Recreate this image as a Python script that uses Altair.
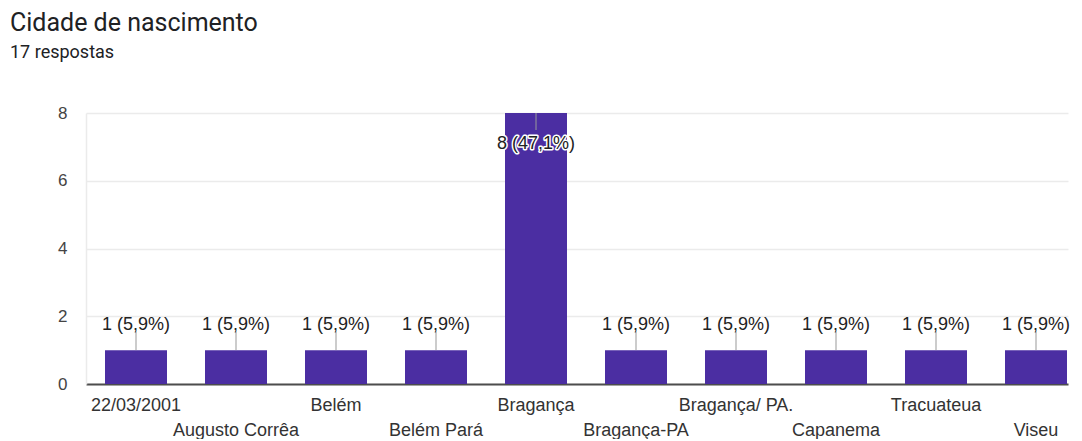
import altair as alt
import pandas as pd

categories = ["22/03/2001", "Augusto Corrêa", "Belém", "Belém Pará", "Bragança",
              "Bragança-PA", "Bragança/ PA.", "Capanema", "Tracuateua", "Viseu"]
counts = [1, 1, 1, 1, 8, 1, 1, 1, 1, 1]
total = 17
y_ticks = [0, 1, 2, 3, 4, 5, 6, 7, 8]

labels = [f"{c} ({c / total * 100:.1f}%)".replace(".", ",") for c in counts]
df = pd.DataFrame({"cidade": categories, "count": counts, "label": labels})

odd_names = ",".join('"' + c + '"' for c in categories[1::2])
x_label_expr = f"indexof([{odd_names}], datum.value) >= 0 ? ['', datum.label] : datum.label"

FONT = "Liberation Sans"
BAR = "#4b2ea2"

x_enc = alt.X(
    "cidade:N", sort=categories, title=None,
    scale=alt.Scale(paddingInner=0.38, paddingOuter=0.1, align=0.95),
    axis=alt.Axis(labelAngle=0, ticks=False, domainColor="#4d4d4d", domainWidth=2,
                  labelFont=FONT, labelFontSize=18, labelColor="#333333",
                  labelPadding=12, labelLineHeight=25, labelBaseline="top",
                  labelExpr=x_label_expr, labelOverlap=False, labelLimit=400, grid=False),
)
y_enc = alt.Y(
    "count:Q", title=None,
    scale=alt.Scale(domain=[0, 8], nice=False),
    axis=alt.Axis(values=y_ticks, labelExpr="datum.value % 2 == 0 ? datum.label : ''",
                  grid=True, gridColor="#ebebeb", gridWidth=1.5, domain=True,
                  domainColor="#ebebeb", domainWidth=1.5,
                  ticks=False, labelPadding=19, labelFont=FONT, labelFontSize=17,
                  labelColor="#444444"),
)

base = alt.Chart(df).transform_joinaggregate(maxc="max(count)")

bars = base.mark_bar(color=BAR).encode(x=x_enc, y=y_enc)

small = base.transform_filter("datum.count < datum.maxc")
big = base.transform_filter("datum.count >= datum.maxc")

rule_small = small.mark_rule(color="#999999", strokeWidth=1, y2Offset=-18).encode(
    x=alt.X("cidade:N", sort=categories), y="count:Q", y2="count:Q")
text_small = small.mark_text(dy=-25, font=FONT, fontSize=18, color="#222222").encode(
    x=alt.X("cidade:N", sort=categories), y="count:Q", text="label:N")

rule_big = big.mark_rule(color="#999999", strokeWidth=1, y2Offset=17).encode(
    x=alt.X("cidade:N", sort=categories), y="count:Q", y2="count:Q")
text_big_halo = big.mark_text(dy=31, font=FONT, fontSize=18, color="white",
                              stroke="white", strokeWidth=3, strokeJoin="round").encode(
    x=alt.X("cidade:N", sort=categories), y="count:Q", text="label:N")
text_big = big.mark_text(dy=31, font=FONT, fontSize=18, color="#222222").encode(
    x=alt.X("cidade:N", sort=categories), y="count:Q", text="label:N")

chart = alt.layer(bars, rule_small, text_small, rule_big, text_big_halo, text_big).properties(
    width=982, height=271,
    padding={"left": 2, "top": 3, "right": 0, "bottom": 0},
    title=alt.TitleParams(
        text="Cidade de nascimento", subtitle="17 respostas",
        anchor="start", frame="group", dx=-76,
        font="Roboto", fontSize=25, fontWeight="normal", color="#202124",
        subtitleFont="Roboto", subtitleFontSize=18, subtitleColor="#202124",
        subtitlePadding=8, offset=42,
    ),
).configure_view(stroke=None)

chart.save("out.html", embed_options={"renderer": "svg", "actions": False})
